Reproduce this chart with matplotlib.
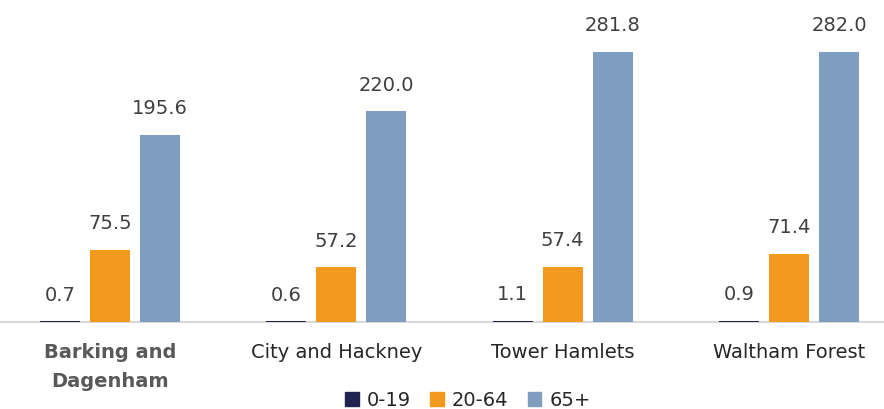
import matplotlib
matplotlib.use("Agg")
import matplotlib.pyplot as plt
import numpy as np

categories = ["Barking and\nDagenham", "City and Hackney", "Tower Hamlets", "Waltham Forest"]
series_names = ["0-19", "20-64", "65+"]
v_0_19 = [0.7, 0.6, 1.1, 0.9]
v_20_64 = [75.5, 57.2, 57.4, 71.4]
v_65 = [195.6, 220.0, 281.8, 282.0]
colors = ["#1f2451", "#f39a1e", "#7f9dbf"]

plt.rcParams['font.family'] = ['DejaVu Sans']

fig = plt.figure(figsize=(8.84, 4.09), dpi=100)
ax = fig.add_axes([0, 0.2127, 1, 0.7873])

x = np.arange(len(categories))
w = 0.176
step = 0.221
for i, (vals, c, name) in enumerate(zip([v_0_19, v_20_64, v_65], colors, series_names)):
    bars = ax.bar(x + (i - 1) * step, vals, width=w, color=c, label=name, zorder=3)
    for b, v in zip(bars, vals):
        ax.annotate(f"{v:.1f}", (b.get_x() + b.get_width() / 2, v), xytext=(0, 12),
                    textcoords="offset points", ha="center", va="bottom",
                    fontsize=14, color="#404040")

ax.set_xlim(-0.486, 3.42)
ax.set_ylim(0, 336)
ax.set_yticks([])
ax.set_xticks([])
for s in ["top", "right", "left"]:
    ax.spines[s].set_visible(False)
ax.spines["bottom"].set_color("#d9d9d9")
ax.spines["bottom"].set_linewidth(1.5)
ax.spines["bottom"].set_zorder(1)

for i, cat in enumerate(categories):
    if i == 0:
        ax.annotate(cat, (x[i], 0), xytext=(0, -15), textcoords="offset points",
                    ha="center", va="top", fontsize=14, fontweight="bold",
                    color="#595959", linespacing=1.7)
    else:
        ax.annotate(cat, (x[i], 0), xytext=(0, -15), textcoords="offset points",
                    ha="center", va="top", fontsize=14, color="#262626")

handles = [plt.Rectangle((0, 0), 1, 1, color=c) for c in colors]
fig.legend(handles, series_names, loc="center", bbox_to_anchor=(468 / 884, 1 - 400 / 409), ncol=3,
           frameon=False, fontsize=14, handlelength=0.7, handleheight=0.7,
           handletextpad=0.4, columnspacing=1.0, labelcolor="#262626",
           borderpad=0, borderaxespad=0)

fig.savefig("out.png", dpi=100)
